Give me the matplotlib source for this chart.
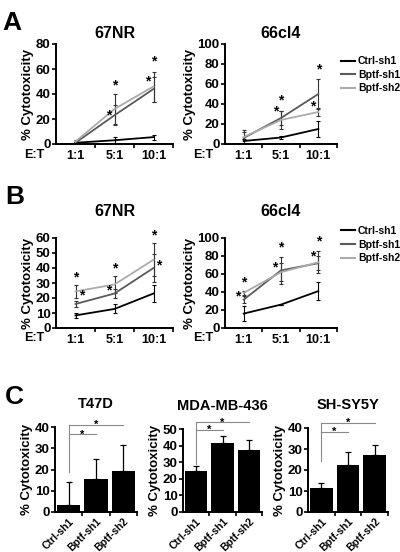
import numpy as np
import matplotlib
matplotlib.use('Agg')
from matplotlib import pyplot as plt
from matplotlib.lines import Line2D

plt.rcParams['font.family'] = ['Liberation Sans', 'DejaVu Sans']
plt.rcParams['font.weight'] = 'bold'

ratios = ['1:1', '5:1', '10:1']
lines = ['Ctrl-sh1', 'Bptf-sh1', 'Bptf-sh2']
line_colors = ['#000000', '#5a5a5a', '#ababab']

# panel A, 67NR
a67_mean = [[1, 3, 5.5], [1, 23, 44], [2, 28, 46]]
a67_err = [[0.5, 3, 2], [0.5, 8, 10], [1, 12, 12]]
a67_stars = [(2.0, 47), (1.85, 23), (3.0, 66), (2.85, 50)]

# panel A, 66cl4
a66_mean = [[3, 6.5, 15], [6, 26, 50], [7, 24, 32]]
a66_err = [[2, 1.5, 8], [6, 7, 15], [7, 9, 4]]
a66_stars = [(2.0, 44), (1.85, 33), (3.0, 75), (2.86, 38)]

# panel B, 67NR
b67_mean = [[8.4, 12.7, 23], [16, 23, 40], [24.4, 29, 45.5]]
b67_err = [[1.5, 3, 5.5], [2, 3, 9], [4.5, 5.5, 11]]
b67_stars = [(1.0, 34), (1.15, 22), (2.0, 40), (1.84, 25), (3.0, 62), (3.13, 42)]

# panel B, 66cl4
b66_mean = [[16, 26, 41], [31.5, 64, 72], [39, 62, 73]]
b66_err = [[8, 0, 10], [4, 15, 8], [2, 10, 12]]
b66_stars = [(1.0, 51), (0.85, 35), (2.0, 89), (1.84, 67), (3.0, 96), (2.86, 79)]

# panel C bars
bar_groups = ['Ctrl-sh1', 'Bptf-sh1', 'Bptf-sh2']
t47d_mean = [3.2, 15.5, 19.5]
t47d_err = [10.8, 9.3, 12.2]
mda_mean = [24.5, 41.5, 37.5]
mda_err = [3.5, 4.2, 6.0]
shsy_mean = [11.5, 22.3, 27.3]
shsy_err = [2.3, 6.2, 4.6]
# bracket levels: start, lower, upper
t47d_brk = [19, 36.5, 40.8]
mda_brk = [28.8, 49.4, 54]
shsy_brk = [24.5, 38, 42.4]

W, H = 400, 552
fig = plt.figure(figsize=(4, 5.52), dpi=100)


def box(x0, x1, ytop, ybot):
    return [x0 / W, 1 - ybot / H, (x1 - x0) / W, (ybot - ytop) / H]


def style(ax):
    for s in ['top', 'right']:
        ax.spines[s].set_visible(False)
    for s in ['left', 'bottom']:
        ax.spines[s].set_linewidth(1.4)
    ax.tick_params(axis='y', length=3, width=1.2, labelsize=9.5, pad=1)
    ax.set_ylabel('% Cytotoxicity', fontsize=9.5, fontweight='bold', labelpad=1)


def line_panel(rect, title, means, errs, stars, ymax, ystep, tpad, legend_y=None):
    ax = fig.add_axes(rect)
    x = np.arange(1, 4)
    for m, e, c in zip(means, errs, line_colors):
        ax.errorbar(x, m, yerr=e, color=c, lw=1.3, ecolor='#333333' if c != '#000000' else c,
                    elinewidth=0.8, capsize=1.5, capthick=0.8)
    for sx, sy in stars:
        ax.text(sx, sy, '*', ha='center', va='center', fontsize=10, clip_on=False)
    ax.set_xlim(0.5, 3.5)
    ax.set_ylim(0, ymax)
    ax.set_yticks(np.arange(0, ymax + 1, ystep))
    ax.set_xticks(x)
    ax.set_xticklabels(ratios)
    ax.set_xticks([1.5, 2.5, 3.5], minor=True)
    ax.tick_params(axis='x', which='major', length=0, labelsize=9, pad=4)
    ax.tick_params(axis='x', which='minor', length=3, width=1.2)
    ax.text(-0.19, -0.11, 'E:T', transform=ax.transAxes, ha='center', va='center', fontsize=9)
    style(ax)
    ax.set_title(title, fontsize=11.5, fontweight='bold', pad=tpad)
    if legend_y is not None:
        handles = [Line2D([], [], color=c, lw=1.5) for c in line_colors]
        ax.legend(handles, lines, loc='upper left', bbox_to_anchor=(1.0, legend_y), frameon=False,
                  fontsize=7.5, handlelength=1.3, handletextpad=0.3, labelspacing=0.35,
                  borderaxespad=0)
    return ax


line_panel(box(56, 173, 44, 144), '67NR', a67_mean, a67_err, a67_stars, 80, 20, 4)
line_panel(box(225, 337, 44, 144), '66cl4', a66_mean, a66_err, a66_stars, 100, 20, 4, legend_y=0.92)
line_panel(box(56, 173, 238, 328), '67NR', b67_mean, b67_err, b67_stars, 60, 10, 16)
line_panel(box(225, 337, 238, 328), '66cl4', b66_mean, b66_err, b66_stars, 100, 20, 16, legend_y=1.18)


def bar_panel(rect, title, means, errs, brk, ymax):
    ax = fig.add_axes(rect)
    x = np.arange(3)
    ax.bar(x, means, width=0.85, color='black')
    ax.errorbar(x, means, yerr=[np.zeros(3), errs], fmt='none', ecolor='black',
                elinewidth=0.9, capsize=2, capthick=0.9)
    start, lower, upper = brk
    gc = '#8a8a8a'
    ax.plot([0, 0], [start, upper], color=gc, lw=0.8, clip_on=False)
    ax.plot([0, 1], [lower, lower], color=gc, lw=0.8, clip_on=False)
    ax.plot([0, 2], [upper, upper], color=gc, lw=0.8, clip_on=False)
    ax.text(0.5, lower, '*', ha='center', va='center', fontsize=8, clip_on=False)
    ax.text(1.0, upper, '*', ha='center', va='center', fontsize=8, clip_on=False)
    ax.set_xlim(-0.5, 2.5)
    ax.set_ylim(0, ymax)
    ax.set_yticks(np.arange(0, ymax + 1, 10))
    ax.set_xticks(x)
    ax.set_xticklabels(bar_groups, rotation=45, ha='right', rotation_mode='anchor')
    ax.set_xticks([0.5, 1.5, 2.5], minor=True)
    ax.tick_params(axis='x', which='major', length=0, labelsize=7.5, pad=3)
    ax.tick_params(axis='x', which='minor', length=3, width=1.2)
    style(ax)
    ax.set_title(title, fontsize=10.5, fontweight='bold', pad=14)
    return ax


bar_panel(box(55, 137, 427, 512), 'T47D', t47d_mean, t47d_err, t47d_brk, 40)
bar_panel(box(183, 262, 429, 512), 'MDA-MB-436', mda_mean, mda_err, mda_brk, 50)
bar_panel(box(308, 388, 428, 512), 'SH-SY5Y', shsy_mean, shsy_err, shsy_brk, 40)

fig.text(0.005, 1 - 23 / H, 'A', fontsize=19, fontweight='bold', va='center')
fig.text(0.012, 1 - 197 / H, 'B', fontsize=19, fontweight='bold', va='center')
fig.text(0.012, 1 - 397 / H, 'C', fontsize=19, fontweight='bold', va='center')

fig.savefig('out.png', dpi=100)
